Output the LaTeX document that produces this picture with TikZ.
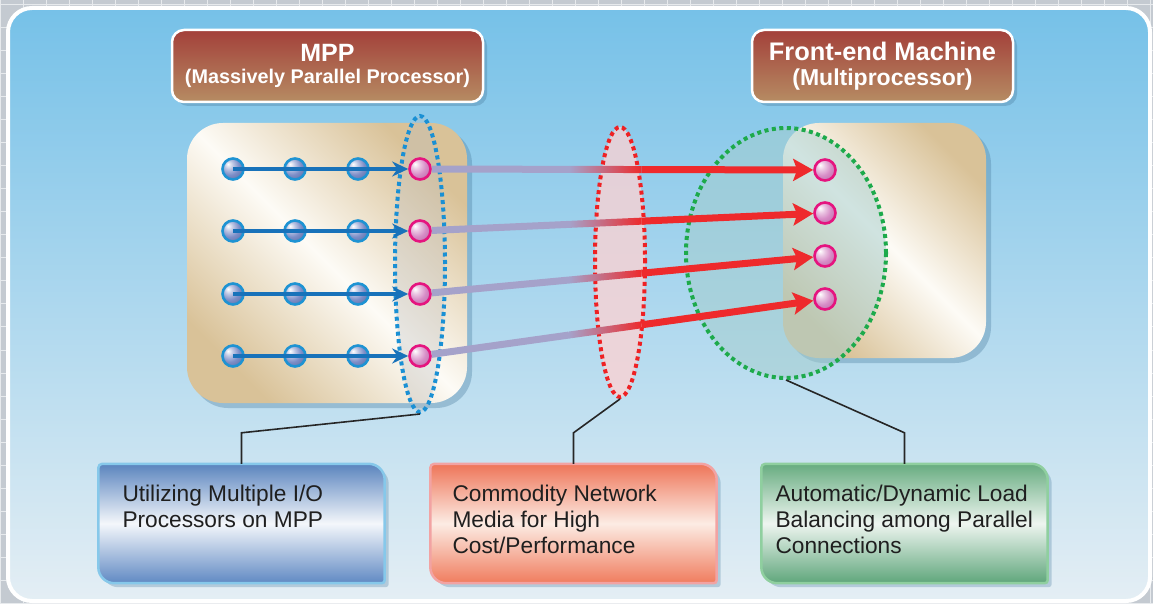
\documentclass[tikz,border=0pt]{standalone}
\usepackage{fontspec}
\setmainfont{Liberation Sans}
\usepackage{tikz}
\usetikzlibrary{positioning}
\usetikzlibrary{shapes.geometric, arrows.meta, calc, shadows}

\definecolor{gridgrey}{HTML}{C4CAD1}
\definecolor{skytop}{HTML}{76C1E8}
\definecolor{skybottom}{HTML}{E4EEF4}
\definecolor{brownA}{HTML}{A3403A}
\definecolor{brownB}{HTML}{B68C63}
\definecolor{tan}{HTML}{D9C298}
\definecolor{cream}{HTML}{FDFBF6}
\definecolor{cpublue}{HTML}{1E93D3}
\definecolor{cpufill}{HTML}{6F82C2}
\definecolor{busblue}{HTML}{1872BA}
\definecolor{iopink}{HTML}{E5147F}
\definecolor{iofill}{HTML}{D27FC0}
\definecolor{linkgrey}{HTML}{A5A2CA}
\definecolor{linkred}{HTML}{EE2A2C}
\definecolor{ringblue}{HTML}{1A90D4}
\definecolor{ringred}{HTML}{EE2124}
\definecolor{ringgreen}{HTML}{1DAA4B}
\definecolor{lbfill}{HTML}{A4CDCC}
\definecolor{shadowblue}{HTML}{4A7C9E}
\definecolor{topblue}{HTML}{5A84BE}
\definecolor{midblue}{HTML}{F4F7FB}
\definecolor{bottomblue}{HTML}{6089C3}
\definecolor{edgeblue}{HTML}{86C8EA}
\definecolor{toporange}{HTML}{EE7558}
\definecolor{midorange}{HTML}{FCECE4}
\definecolor{bottomorange}{HTML}{F07C5E}
\definecolor{edgeorange}{HTML}{F2A3A3}
\definecolor{topgreen}{HTML}{67AC80}
\definecolor{midgreen}{HTML}{EEF5F0}
\definecolor{bottomgreen}{HTML}{5FA67B}
\definecolor{edgegreen}{HTML}{8FCF9F}

\pgfdeclareradialshading{cpuball}{\pgfpoint{-12bp}{12bp}}{color(0bp)=(white); color(10bp)=(cpufill!45!white); color(22bp)=(cpufill!90!white); color(40bp)=(cpufill!80!black); color(50bp)=(cpufill!55!black); color(70bp)=(cpufill!55!black)}
\pgfdeclareradialshading{ioball}{\pgfpoint{-12bp}{12bp}}{color(0bp)=(white); color(10bp)=(iofill!45!white); color(22bp)=(iofill!90!white); color(40bp)=(iofill!85!black); color(50bp)=(iofill!60!black); color(70bp)=(iofill!60!black)}

\pgfdeclarelayer{back}
\pgfdeclarelayer{boxes}
\pgfsetlayers{back,boxes,main}

\tikzstyle{titlebox} = [rounded corners=12pt, draw=white, line width=2.5pt, top color=brownA, bottom color=brownB, text=white, align=center, inner sep=0pt, drop shadow={shadow xshift=4pt, shadow yshift=-4pt, opacity=0.35, fill=shadowblue}]
\tikzstyle{bodybox} = [rounded corners=36pt, inner sep=0pt, top color=tan, bottom color=tan, middle color=cream, shading angle=-45, drop shadow={shadow xshift=5pt, shadow yshift=-5pt, opacity=0.35, fill=shadowblue}]
\tikzstyle{cpu} = [circle, minimum size=21pt, inner sep=0pt, line width=2.6pt, draw=cpublue, shading=cpuball]
\tikzstyle{ionode} = [circle, minimum size=21pt, inner sep=0pt, line width=2.6pt, draw=iopink, shading=ioball]
\tikzstyle{ring} = [ellipse, inner sep=0pt, line width=4pt, dash pattern=on 4pt off 3.5pt]
\tikzstyle{bus} = [line width=3.5pt, busblue, -{Stealth[length=16pt, width=15pt]}]
\tikzstyle{link} = [line width=7pt]
\tikzstyle{callout} = [line width=1.6pt, black!85]
\tikzstyle{infobox} = [minimum width=286pt, minimum height=119pt, inner sep=0pt, text=black!88, font=\fontsize{22.7}{26}\selectfont]

\newcommand{\infotext}[2][24pt]{\parbox[c][76pt][t]{286pt}{\raggedright\leftskip=#1\relax #2}}

\begin{document}
\begin{tikzpicture}[x=1pt, y=1pt]
  \useasboundingbox (0,0) rectangle (1153,603);

  % backdrop
  \begin{pgfonlayer}{back}
    \fill[gridgrey] (0,0) rectangle (1153,603);
    \draw[white!60!gridgrey, line width=1pt, step=23pt] (0,0) grid (1153,603);
    \draw[white, line width=4pt, rounded corners=24pt, top color=skytop, bottom color=skybottom] (8,2) rectangle (1150,595);
  \end{pgfonlayer}

  % titles
  \node[titlebox, minimum width=311pt, minimum height=72pt, font=\bfseries\fontsize{25}{22}\selectfont] (mpptitle) at (327.5,537)
    {MPP\\\fontsize{19.8}{22}\selectfont (Massively Parallel Processor)};
  \node[titlebox, minimum width=261pt, minimum height=72pt, font=\bfseries\fontsize{25.4}{25}\selectfont] (fetitle) at (882.5,537)
    {Front-end Machine\\\fontsize{23}{25}\selectfont (Multiprocessor)};

  % machines
  \node[bodybox, minimum width=280pt, minimum height=280pt] (mppbody) at (327,340) {};
  \node[bodybox, minimum width=203pt, minimum height=235pt] (febody) at (884.5,362.5) {};

  % groups
  \node[ring, draw=ringgreen, fill=lbfill, fill opacity=0.5, minimum width=200pt, minimum height=250pt] (lbring) at (786,350) {};
  \node[ring, draw=ringred, fill=pink!70!white, fill opacity=0.75, minimum width=50pt, minimum height=270pt] (netring) at (620,341) {};
  \node[ring, draw=ringblue, fill=gray!50, fill opacity=0.35, minimum width=50pt, minimum height=296pt] (ioring) at (420,339) {};

  % processors
  \foreach \r/\y in {1/434, 2/372, 3/309, 4/247} {
    \foreach \c/\x in {1/233, 2/295, 3/358}
      \node[cpu] (p\r\c) at (\x,\y) {};
    \node[ionode] (io\r) at (420,\y) {};
    \draw[bus] (p\r1.center) -- (io\r);
  }
  \foreach \r/\y in {1/433, 2/390, 3/347, 4/304}
    \node[ionode] (fe\r) at (825,\y) {};

  % connections
  \foreach \r in {1,...,4} {
    \path (io\r) -- (fe\r) coordinate[pos=0.36] (m\r) coordinate[pos=0.55] (n\r);
    \draw[link, linkgrey] (io\r) -- (m\r);
    \shade[left color=linkgrey, right color=linkred] ($(m\r)+(0,3.5)$) -- ($(n\r)+(0,3.5)$) -- ($(n\r)+(0,-3.5)$) -- ($(m\r)+(0,-3.5)$) -- cycle;
    \draw[link, linkred, -{Stealth[length=20pt, width=22pt, inset=4pt]}] (n\r) -- (fe\r);
  }

  % notes
  \node[infobox] (iobox) at (241.5,79.5) {\infotext{Utilizing Multiple I/O\\Processors on MPP}};
  \node[infobox] (netbox) at (573.5,79.5) {\infotext[22pt]{Commodity Network\\Media for High\\Cost/Performance}};
  \node[infobox] (lbbox) at (904.5,79.5) {\infotext[14pt]{Automatic/Dynamic Load\\Balancing among Parallel\\Connections}};

  \begin{pgfonlayer}{boxes}
    \foreach \b/\c in {iobox/blue, netbox/orange, lbbox/green}
      \shade[draw=edge\c, line width=2.5pt, top color=top\c, bottom color=bottom\c, middle color=mid\c,
             drop shadow={shadow xshift=4pt, shadow yshift=-4pt, opacity=0.3, fill=shadowblue}]
        ([xshift=4pt]\b.north west) -- ([xshift=-16pt]\b.north east) arc[start angle=90, end angle=0, radius=16pt]
        -- ([yshift=3pt]\b.south east) arc[start angle=0, end angle=-90, radius=3pt]
        -- ([xshift=16pt]\b.south west) arc[start angle=270, end angle=180, radius=16pt]
        -- ([yshift=-4pt]\b.north west) arc[start angle=180, end angle=90, radius=4pt] -- cycle;
  \end{pgfonlayer}

  % leaders
  \draw[callout] (ioring.south) -- ([yshift=31pt]iobox.north) -- (iobox.north);
  \draw[callout] (netring.south) -- ([yshift=31pt]netbox.north) -- (netbox.north);
  \draw[callout] (lbring.south) -- ([yshift=31pt]lbbox.north) -- (lbbox.north);
\end{tikzpicture}
\end{document}
